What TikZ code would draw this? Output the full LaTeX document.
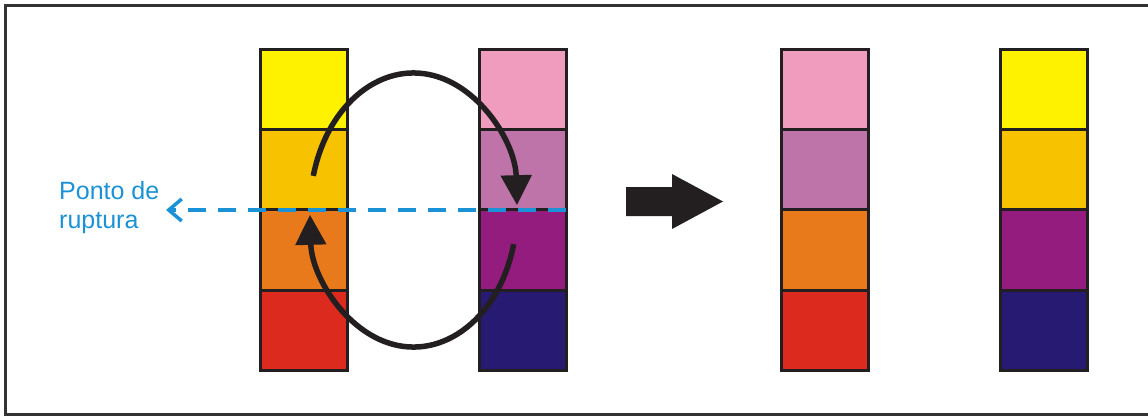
\documentclass[tikz,border=0pt]{standalone}
\usepackage{fontspec}
\setmainfont{Liberation Sans}
\usetikzlibrary{arrows.meta}
\definecolor{cYel}{HTML}{FFF200}
\definecolor{cGold}{HTML}{F7C200}
\definecolor{cOra}{HTML}{E97A1C}
\definecolor{cRed}{HTML}{DD2A1F}
\definecolor{cPink}{HTML}{F09CBF}
\definecolor{cMauve}{HTML}{BE73A9}
\definecolor{cPurp}{HTML}{931C7E}
\definecolor{cNavy}{HTML}{261A72}
\definecolor{cBlue}{HTML}{1C92D6}
\definecolor{cLine}{HTML}{231F20}
\begin{document}
\begin{tikzpicture}[x=1pt,y=-1pt,
  cell/.style={draw=cLine, line width=3pt, minimum width=87pt, minimum height=80.25pt, inner sep=0pt, outer sep=0pt},
  swaparc/.style={line width=5.5pt, draw=cLine, -{Triangle[length=30pt,width=30pt]}},
  breakline/.style={draw=cBlue, line width=3.5pt, dash pattern=on 18pt off 12pt, -{Straight Barb[length=13pt,width=22pt,line width=3.5pt]}},
  lbl/.style={text=cBlue, font=\fontsize{25}{29}\selectfont, align=left, inner sep=0pt},
  bigarrow/.style={fill=cLine}
]
\useasboundingbox (0,0) rectangle (1148,415);
\fill[white] (0,0) rectangle (1148,415);
\draw[line width=3pt, draw=black!80] (1160,5) -- (5,5) -- (5,414) -- (1160,414);

% columns
\foreach \cx/\pre/\ca/\cb/\cc/\cd in {304/a/cYel/cGold/cOra/cRed, 523/b/cPink/cMauve/cPurp/cNavy, 824.5/c/cPink/cMauve/cOra/cRed, 1043.5/d/cYel/cGold/cPurp/cNavy}{
  \node[cell, fill=\ca] (\pre1) at (\cx,89.6) {};
  \node[cell, fill=\cb] (\pre2) at (\cx,169.9) {};
  \node[cell, fill=\cc] (\pre3) at (\cx,250.1) {};
  \node[cell, fill=\cd] (\pre4) at (\cx,330.4) {};
}

% swap arcs
\coordinate (topstart) at (313.3,175.9);
\coordinate (botstart) at (513.7,244.1);
\draw[swaparc] (topstart) arc[start angle=165.6, end angle=2, x radius=103.5pt, y radius=137pt];
\draw[swaparc] (botstart) arc[start angle=-14.4, end angle=-178, x radius=103.5pt, y radius=137pt];

% break point
\node[lbl, anchor=base west] (label) at (59,228) {Ponto de\\ruptura};
\coordinate (brkR) at (566,210);
\coordinate (brkL) at (166,210);
\draw[breakline] (brkR) -- (brkL);

% big arrow
\fill[bigarrow] (626,187) -- (672,187) -- (672,174) -- (723,201.5) -- (672,229) -- (672,216) -- (626,216) -- cycle;
\end{tikzpicture}
\end{document}
